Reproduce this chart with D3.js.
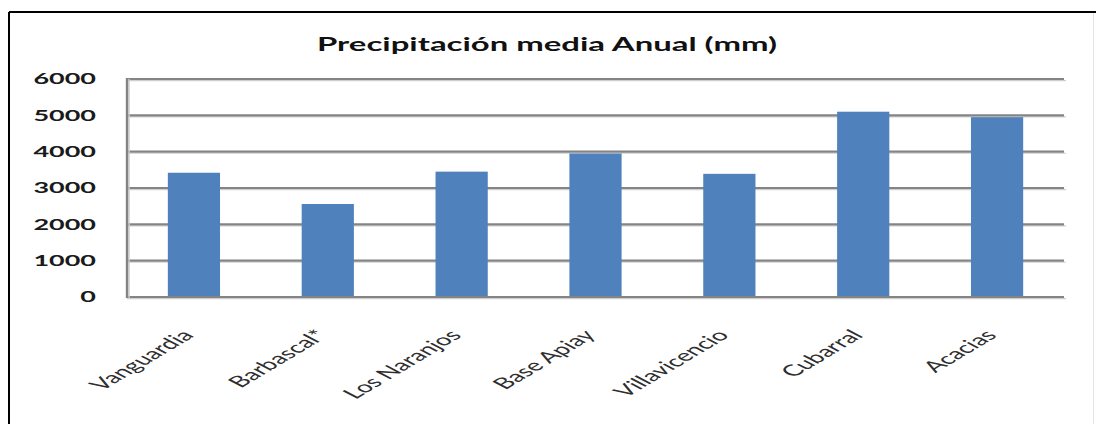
<!DOCTYPE html>
<html>
<head>
<meta charset="utf-8">
<script src="https://cdn.jsdelivr.net/npm/d3@7"></script>
<style>
    html, body { margin: 0; padding: 0; background: #fff; }
    svg { display: block; }
</style>
</head>
<body>
<svg id="chart" width="1096" height="424"></svg>
<script>
const stations = ["Vanguardia", "Barbascal*", "Los Naranjos", "Base Apiay", "Villavicencio", "Cubarral", "Acacias"];
const rainfall = [3420, 2560, 3450, 3950, 3390, 5100, 4950];
const yTicks = [0, 1000, 2000, 3000, 4000, 5000, 6000];
const chartTitle = "Precipitación media Anual (mm)";

// the source picture is stretched sideways, so text gets the same stretch
const stretch = 1.8;

const svg = d3.select("#chart");
const plot = { left: 127, right: 1064, top: 79, bottom: 297 };

// outer frame
svg.append("line").attr("x1", 9).attr("x2", 9).attr("y1", 12).attr("y2", 424)
    .attr("stroke", "#000").attr("stroke-width", 2);
svg.append("line").attr("x1", 9).attr("x2", 1096).attr("y1", 12).attr("y2", 12)
    .attr("stroke", "#000").attr("stroke-width", 2);
svg.append("line").attr("x1", 1093.5).attr("x2", 1093.5).attr("y1", 13).attr("y2", 424)
    .attr("stroke", "#e4e4e4").attr("stroke-width", 1);

const x = d3.scaleBand()
    .domain(stations)
    .range([plot.left, plot.right])
    .paddingInner(0.61)
    .paddingOuter(0.305);

const y = d3.scaleLinear()
    .domain([0, 6000])
    .range([plot.bottom, plot.top]);

// gridlines with a soft shadow under each one
const grid = svg.append("g");
grid.selectAll("line.shadow")
    .data(yTicks)
    .join("line")
    .attr("class", "shadow")
    .attr("x1", plot.left).attr("x2", plot.right + 2)
    .attr("y1", d => y(d) + 1.6).attr("y2", d => y(d) + 1.6)
    .attr("stroke", "#cfcfcf").attr("stroke-width", 1.2);
grid.selectAll("line.main")
    .data(yTicks)
    .join("line")
    .attr("class", "main")
    .attr("x1", plot.left).attr("x2", plot.right)
    .attr("y1", d => y(d)).attr("y2", d => y(d))
    .attr("stroke", "#848484").attr("stroke-width", 2.2);

// vertical axis line
svg.append("line")
    .attr("x1", plot.left + 2).attr("x2", plot.left + 2)
    .attr("y1", plot.top).attr("y2", plot.bottom + 1)
    .attr("stroke", "#cfcfcf").attr("stroke-width", 1.5);
svg.append("line")
    .attr("x1", plot.left).attr("x2", plot.left)
    .attr("y1", plot.top - 1).attr("y2", plot.bottom + 1)
    .attr("stroke", "#848484").attr("stroke-width", 2.4);

// bars
svg.append("g")
    .selectAll("rect")
    .data(stations)
    .join("rect")
    .attr("x", d => x(d))
    .attr("width", x.bandwidth())
    .attr("y", (d, i) => y(rainfall[i]))
    .attr("height", (d, i) => y(0) - y(rainfall[i]) - 1)
    .attr("fill", "#4f81bd");

// y tick labels
svg.append("g")
    .selectAll("text")
    .data(yTicks)
    .join("text")
    .attr("transform", d => `translate(96,${y(d)}) scale(${stretch},1)`)
    .attr("dy", "0.36em")
    .attr("text-anchor", "end")
    .style("font", "bold 15px Lato, sans-serif")
    .attr("fill", "#1a1a1a")
    .attr("textLength", d => String(d).length * 8.7)
    .attr("lengthAdjust", "spacingAndGlyphs")
    .text(d => d);

// category labels, rotated and stretched like the source
svg.append("g")
    .selectAll("text")
    .data(stations)
    .join("text")
    .attr("transform", d => `translate(${x(d) + x.bandwidth() / 2 + 1},336) scale(${stretch},1) rotate(-47)`)
    .attr("text-anchor", "end")
    .style("font", "15.5px Lato, sans-serif")
    .attr("fill", "#2e2e2e")
    .text(d => d);

// title
svg.append("text")
    .attr("transform", `translate(547,51) scale(${stretch},1)`)
    .attr("text-anchor", "middle")
    .style("font", "bold 19px Lato, sans-serif")
    .attr("fill", "#111")
    .attr("textLength", 460 / stretch)
    .attr("lengthAdjust", "spacingAndGlyphs")
    .text(chartTitle);
</script>
</body>
</html>
